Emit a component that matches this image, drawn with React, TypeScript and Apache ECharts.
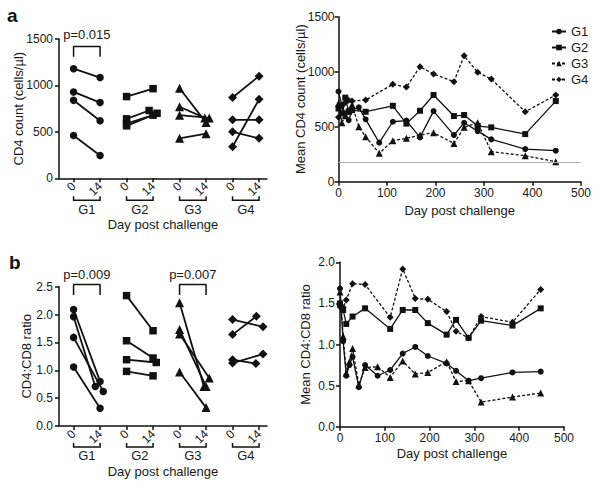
import React, { useEffect, useRef } from 'react';
import * as echarts from 'echarts';

const groups = ['G1', 'G2', 'G3', 'G4'];
const pairLabels = ['0', '14'];
const symbols = ['circle', 'rect', 'triangle', 'diamond'];

// Panel a (left): individual CD4 counts day 0 and day 14
const cd4Day0 = [
  [1180, 930, 840, 460],
  [880, 640, 590, 565],
  [970, 770, 680, 430],
  [870, 630, 500, 340],
];
const cd4Day14 = [
  [1085, 815, 620, 245],
  [965, 730, 680, 700],
  [600, 650, 650, 480],
  [1100, 630, 430, 850],
];
// Panel b (left): individual CD4:CD8 ratios day 0 and day 14
const ratioDay0 = [
  [2.09, 1.96, 1.59, 1.06],
  [2.34, 1.53, 1.19, 0.98],
  [2.21, 1.73, 1.65, 0.97],
  [1.91, 1.64, 1.19, 1.13],
];
const ratioDay14 = [
  [0.8, 0.71, 0.62, 0.32],
  [1.71, 1.22, 1.14, 0.9],
  [0.71, 0.71, 0.86, 0.33],
  [1.78, 1.97, 1.12, 1.29],
];
const cd4Jitter = [
  [0, 0, 0, 0],
  [0, -0.15, 0, 0.15],
  [0, -0.05, 0.12, 0],
  [0, 0, 0, 0],
];
const ratioJitter = [
  [0, -0.18, 0.12, 0],
  [0, 0, 0.12, 0],
  [-0.08, 0, 0.12, 0],
  [0.15, -0.1, -0.12, 0.15],
];

// Right panels: means over time
const days = [0, 7, 14, 21, 28, 42, 56, 84, 112, 140, 168, 196, 238, 259, 287, 315, 385, 448];
const meanCd4G1 = [820, 690, 620, 560, 650, 676, 567, 355, 545, 555, 403, 642, 424, 536, 460, 385, 297, 282];
const meanCd4G2 = [665, 620, 764, 640, 650, null, 636, null, 690, 528, 645, 788, 597, 606, 506, 494, 433, 733];
const meanCd4G3 = [712, 536, 600, 640, 700, 500, 409, 258, 373, 394, 424, 445, 348, 494, 536, 273, 236, 182];
const meanCd4G4 = [585, 700, 720, 740, 734, null, 743, null, 885, 860, 1045, 979, 909, 1145, 994, 933, 636, 788];
const meanRatioG1 = [1.68, 1.04, 0.62, 0.75, 0.85, 0.48, 0.75, 0.62, 0.69, 0.89, 0.97, 0.86, 0.77, 0.68, 0.56, 0.59, 0.66, 0.67];
const meanRatioG2 = [1.5, 1.42, 1.25, null, 1.34, null, 1.44, null, 1.19, 1.42, 1.42, 1.26, 1.12, 1.3, 1.08, 1.29, 1.23, 1.44];
const meanRatioG3 = [1.64, 1.1, 0.65, 0.79, 0.95, 0.51, 0.72, 0.73, 0.6, 0.8, 0.64, 0.66, 0.79, 0.55, 0.56, 0.3, 0.36, 0.41];
const meanRatioG4 = [1.46, 1.45, 1.54, null, 1.74, null, 1.73, null, 1.33, 1.92, 1.56, 1.55, 1.4, 1.16, 1.08, 1.34, 1.27, 1.67];
const cd4Threshold = 175;

const pValuesA = [{ group: 0, text: 'p=0.015' }];
const pValuesB = [{ group: 0, text: 'p=0.009' }, { group: 2, text: 'p=0.007' }];

const FONT = 'Liberation Sans, Arial, Helvetica, sans-serif';
const INK = '#111';

export default function App() {
  const ref = useRef<HTMLDivElement>(null);
  useEffect(() => {
    document.body.style.margin = '0';
    const chart = echarts.init(ref.current!, null, { renderer: 'svg' });

    const axisLine = { show: true, lineStyle: { color: INK, width: 1.5 } };
    const axisTick = { show: true, length: 4, lineStyle: { color: INK, width: 1.5 } };
    const lbl = { color: '#1a1a1a', fontFamily: FONT, fontSize: 12 };
    const nameStyle = { color: '#1a1a1a', fontFamily: FONT, fontSize: 13 };
    const pairPositions = [1, 2, 3, 4, 5, 6, 7, 8];

    const pairXAxis = (gridIndex: number, name: string, nameGap: number) => ({
      type: 'value', gridIndex, min: 0.45, max: 8.3,
      splitLine: { show: false }, axisLine,
      axisTick: { ...axisTick, customValues: pairPositions },
      axisLabel: {
        ...lbl, customValues: pairPositions, rotate: 45, margin: 6,
        formatter: (v: number) => pairLabels[(Math.round(v) - 1) % 2],
      },
      name, nameLocation: 'middle', nameGap, nameTextStyle: nameStyle, nameMoveOverlap: false,
    });

    const timeXAxis = (gridIndex: number, nameGap: number) => ({
      type: 'value', gridIndex, min: 0, max: 500, interval: 100,
      splitLine: { show: false }, axisLine, axisTick,
      axisLabel: { ...lbl, margin: 5 },
      name: 'Day post challenge', nameLocation: 'middle', nameGap, nameTextStyle: nameStyle,
      nameMoveOverlap: false,
    });

    const series: any[] = [];
    const addPairs = (axisIdx: number, d0: number[][], d14: number[][], jit: number[][]) => {
      d0.forEach((vals, g) => {
        vals.forEach((v, i) => {
          series.push({
            type: 'line', name: `pair-${axisIdx}-${g}-${i}`,
            xAxisIndex: axisIdx, yAxisIndex: axisIdx, silent: true,
            data: [[2 * g + 1, v], [2 * g + 2 + jit[g][i], d14[g][i]]],
            symbol: symbols[g], symbolSize: g >= 2 ? 9 : 7.5,
            lineStyle: { color: INK, width: 1.8 }, itemStyle: { color: INK },
          });
        });
      });
    };
    addPairs(0, cd4Day0, cd4Day14, cd4Jitter);
    addPairs(2, ratioDay0, ratioDay14, ratioJitter);

    // p-value brackets (drawn in data coordinates)
    const addBracket = (axisIdx: number, g: number, low: number, high: number) => {
      series.push({
        type: 'line', name: `br-${axisIdx}-${g}`, xAxisIndex: axisIdx, yAxisIndex: axisIdx,
        silent: true, clip: false, symbol: 'none',
        data: [[2 * g + 1, low], [2 * g + 1, high], [2 * g + 2, high], [2 * g + 2, low]],
        lineStyle: { color: INK, width: 1.5 },
      });
    };
    pValuesA.forEach((p) => addBracket(0, p.group, 1310, 1420));
    pValuesB.forEach((p) => addBracket(2, p.group, 2.35, 2.54));

    const meanCd4 = [meanCd4G1, meanCd4G2, meanCd4G3, meanCd4G4];
    const meanRatio = [meanRatioG1, meanRatioG2, meanRatioG3, meanRatioG4];
    const addMeans = (axisIdx: number, arrs: (number | null)[][]) => {
      arrs.forEach((arr, g) => {
        const s: any = {
          type: 'line', name: groups[g], xAxisIndex: axisIdx, yAxisIndex: axisIdx,
          connectNulls: true, silent: true,
          data: days.map((d, i) => [d, arr[i]]).filter((p) => p[1] !== null),
          symbol: symbols[g], symbolSize: g >= 2 ? 7 : 6,
          lineStyle: { color: INK, width: 1.3, type: g >= 2 ? [3, 2] : 'solid' },
          itemStyle: { color: INK },
        };
        if (axisIdx === 1 && g === 0) {
          s.markLine = {
            silent: true, symbol: 'none', label: { show: false },
            lineStyle: { color: '#b5b5b5', width: 1.2, type: 'solid' },
            data: [{ yAxis: cd4Threshold }],
          };
        }
        series.push(s);
      });
    };
    addMeans(1, meanCd4);
    addMeans(3, meanRatio);

    const yBase = { type: 'value', splitLine: { show: false }, axisLine, axisTick, nameLocation: 'middle', nameTextStyle: nameStyle, nameMoveOverlap: false };
    const option: any = {
      animation: false,
      textStyle: { fontFamily: FONT },
      grid: [
        { left: 59, top: 39, width: 208, height: 139.3 },
        { left: 338.5, top: 16.7, width: 242.5, height: 165 },
        { left: 59, top: 286.7, width: 208, height: 139.3 },
        { left: 340, top: 262.3, width: 224, height: 164.4 },
      ],
      xAxis: [
        pairXAxis(0, 'Day post challenge', 40),
        timeXAxis(1, 22),
        pairXAxis(2, 'Day post challenge', 39),
        timeXAxis(3, 20),
      ],
      yAxis: [
        {
          ...yBase, gridIndex: 0, min: 0, max: 1500, interval: 500,
          axisLabel: { ...lbl, margin: 6, formatter: (v: number) => String(v) },
          name: 'CD4 count (cells/µl)', nameGap: 34,
        },
        {
          ...yBase, gridIndex: 1, min: 0, max: 1500, interval: 500,
          axisLabel: { ...lbl, margin: 4, formatter: (v: number) => String(v) },
          name: 'Mean CD4 count (cells/µl)', nameGap: 32,
        },
        {
          ...yBase, gridIndex: 2, min: 0, max: 2.5, interval: 0.5,
          axisLabel: { ...lbl, margin: 6, formatter: (v: number) => v.toFixed(1) },
          name: 'CD4:CD8 ratio', nameGap: 26,
        },
        {
          ...yBase, gridIndex: 3, min: 0, max: 2, interval: 0.5,
          axisLabel: { ...lbl, margin: 5, formatter: (v: number) => v.toFixed(1) },
          name: 'Mean CD4:CD8 ratio', nameGap: 28,
        },
      ],
      legend: {
        data: groups, orient: 'vertical', left: 546, top: 20,
        itemWidth: 14, itemHeight: 7, itemGap: 3,
        textStyle: { fontFamily: FONT, fontSize: 13, color: '#1a1a1a' },
        selectedMode: false,
      },
      series,
    };
    chart.setOption(option);

    const px = (axisIdx: number, pt: number[]) =>
      chart.convertToPixel({ xAxisIndex: axisIdx, yAxisIndex: axisIdx }, pt) as number[];

    const graphic: any[] = [
      { type: 'text', left: 7, top: 6, style: { text: 'a', font: `bold 19px ${FONT}`, fill: INK } },
      { type: 'text', left: 9, top: 253, style: { text: 'b', font: `bold 19px ${FONT}`, fill: INK } },
    ];
    const addGroupBrackets = (axisIdx: number, bOff: number, tOff: number) => {
      groups.forEach((gName, g) => {
        const a = px(axisIdx, [2 * g + 1, 0]);
        const b = px(axisIdx, [2 * g + 2, 0]);
        const y = a[1] + bOff;
        graphic.push({
          type: 'polyline', silent: true,
          shape: { points: [[a[0], y - 4], [a[0], y], [b[0], y], [b[0], y - 4]] },
          style: { stroke: INK, lineWidth: 1.5, fill: null },
        });
        graphic.push({
          type: 'text', silent: true, x: (a[0] + b[0]) / 2, y: a[1] + tOff,
          style: { text: gName, font: `13px ${FONT}`, fill: '#1a1a1a', align: 'center', verticalAlign: 'middle' },
        });
      });
    };
    addGroupBrackets(0, 22, 31);
    addGroupBrackets(2, 21, 29);
    const addPText = (axisIdx: number, g: number, value: number, text: string) => {
      const p = px(axisIdx, [2 * g + 1.5, value]);
      graphic.push({
        type: 'text', silent: true, x: p[0], y: p[1],
        style: { text, font: `13px ${FONT}`, fill: '#1a1a1a', align: 'center', verticalAlign: 'middle' },
      });
    };
    pValuesA.forEach((p) => addPText(0, p.group, 1550, p.text));
    pValuesB.forEach((p) => addPText(2, p.group, 2.72, p.text));
    chart.setOption({ graphic });

    return () => chart.dispose();
  }, []);
  return <div ref={ref} style={{ width: 600, height: 488 }} />;
}
